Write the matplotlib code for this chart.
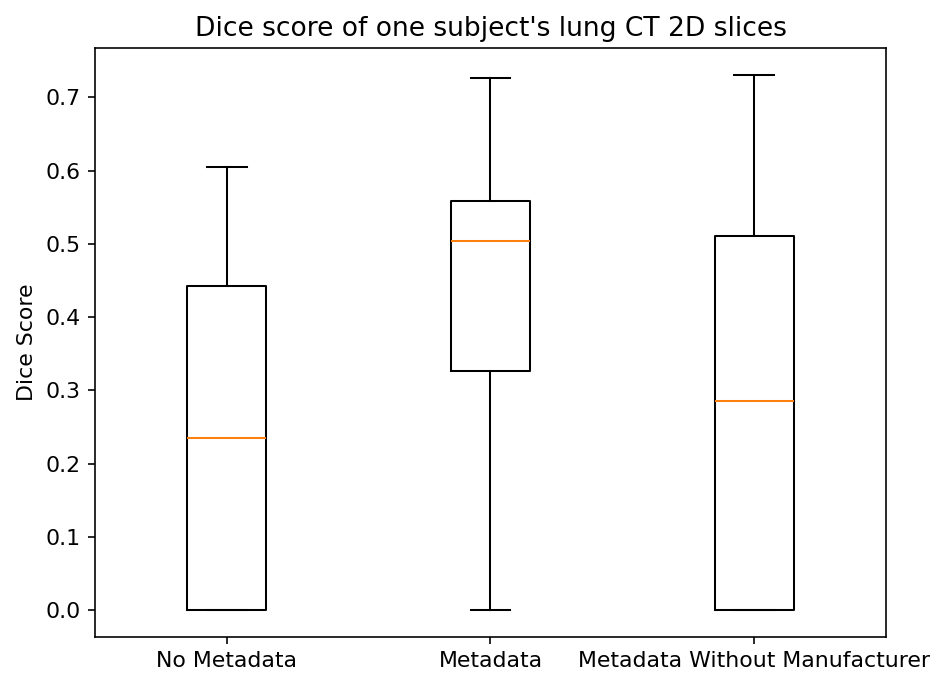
import matplotlib
matplotlib.use("Agg")
import matplotlib.pyplot as plt

labels = ["No Metadata", "Metadata", "Metadata Without Manufacturer"]
whislo = [0.0, 0.0, 0.0]
q1 = [0.0, 0.326, 0.0]
med = [0.235, 0.5045, 0.2855]
q3 = [0.443, 0.558, 0.5115]
whishi = [0.605, 0.727, 0.731]

stats = []
for i, lab in enumerate(labels):
    stats.append(dict(label=lab, whislo=whislo[i], q1=q1[i], med=med[i],
                      q3=q3[i], whishi=whishi[i], fliers=[]))

plt.rcParams["font.size"] = 10.8
plt.rcParams["axes.titlesize"] = 13.0

dpi = 147
fig = plt.figure(figsize=(940 / dpi, 684 / dpi), dpi=dpi)
ax = fig.add_axes([95 / 940, 1 - 637 / 684, (886 - 95) / 940, (637 - 48) / 684])
ax.bxp(stats, showfliers=False)
ax.set_title("Dice score of one subject's lung CT 2D slices")
ax.set_ylabel("Dice Score")
fig.savefig("out.png", dpi=dpi)
